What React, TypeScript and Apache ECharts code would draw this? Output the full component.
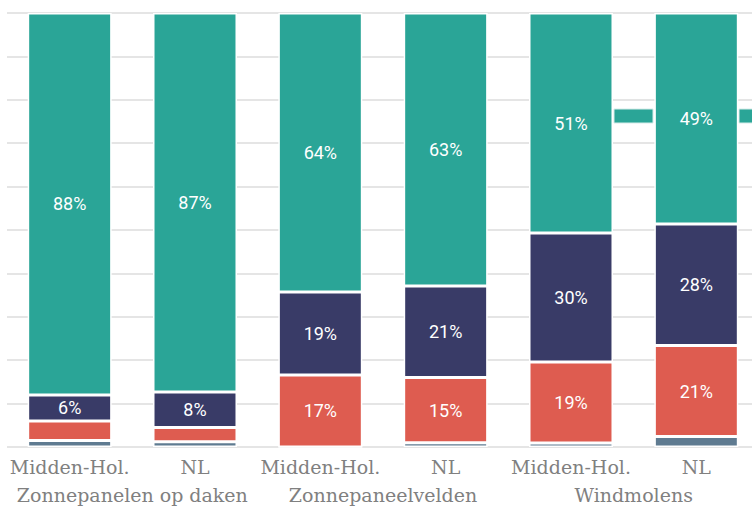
import React, { useEffect, useRef } from "react";
import * as echarts from "echarts";

const categories = ["Midden-Hol.", "NL", "Midden-Hol.", "NL", "Midden-Hol.", "NL"];
const groups = ["Zonnepanelen op daken", "Zonnepaneelvelden", "Windmolens"];
const slateValues = [1.5, 1.2, 0, 1.0, 0.9, 2.4];
const redValues = [4.5, 3.3, 16.6, 15.0, 18.7, 21.0];
const navyValues = [6.0, 8.2, 19.1, 21.1, 29.7, 28.0];
const tealValues = [88.0, 87.3, 64.3, 62.9, 50.7, 48.6];

const COLORS = {
  slate: "#5f7b91",
  red: "#de5c50",
  navy: "#393b67",
  teal: "#2aa597",
};

export default function App() {
  const ref = useRef<HTMLDivElement>(null);
  useEffect(() => {
    if (!ref.current) return;
    const chart = echarts.init(ref.current, undefined, { renderer: "svg" });
    const label = {
      show: true,
      position: "inside",
      color: "#ffffff",
      fontFamily: "Roboto",
      fontSize: 18,
      formatter: (p: any) => (p.value >= 5 ? Math.round(p.value) + "%" : ""),
    };
    const mk = (name: string, data: number[], color: string) => ({
      name,
      type: "bar",
      stack: "total",
      data,
      barWidth: "67%",
      itemStyle: { color, borderColor: "#ffffff", borderWidth: 1.5 },
      label,
      emphasis: { disabled: true },
    });
    const axisLabel = {
      interval: 0,
      margin: 10,
      color: "#808080",
      fontFamily: "DejaVu Serif",
      fontSize: 19,
    };
    chart.setOption({
      animation: false,
      grid: {
        left: 7,
        top: 13,
        width: 752,
        height: 434,
        containLabel: false,
        outerBoundsMode: "none",
      },
      xAxis: [
        {
          type: "category",
          data: categories,
          position: "bottom",
          axisLine: { show: false },
          axisTick: { show: false },
          axisLabel,
        },
        {
          type: "category",
          data: groups,
          position: "bottom",
          offset: 30,
          axisLine: { show: false },
          axisTick: { show: false },
          axisLabel: { ...axisLabel, lineHeight: 16 },
        },
      ],
      yAxis: {
        type: "value",
        min: 0,
        max: 100,
        interval: 10,
        axisLabel: { show: false },
        axisLine: { show: false },
        axisTick: { show: false },
        splitLine: { lineStyle: { color: "#dddddd", width: 1.5 } },
      },
      series: [
        mk("slate", slateValues, COLORS.slate),
        mk("red", redValues, COLORS.red),
        mk("navy", navyValues, COLORS.navy),
        mk("teal", tealValues, COLORS.teal),
      ],
      graphic: [
        {
          type: "rect",
          shape: { x: 614, y: 109, width: 39, height: 14 },
          style: { fill: COLORS.teal, stroke: "#d5ece9", lineWidth: 1 },
        },
        {
          type: "rect",
          shape: { x: 739, y: 109, width: 20, height: 14 },
          style: { fill: COLORS.teal, stroke: "#d5ece9", lineWidth: 1 },
        },
      ],
    });
    return () => chart.dispose();
  }, []);
  return (
    <div
      ref={ref}
      style={{ position: "fixed", left: 0, top: 0, width: 760, height: 508, background: "#fff" }}
    />
  );
}
